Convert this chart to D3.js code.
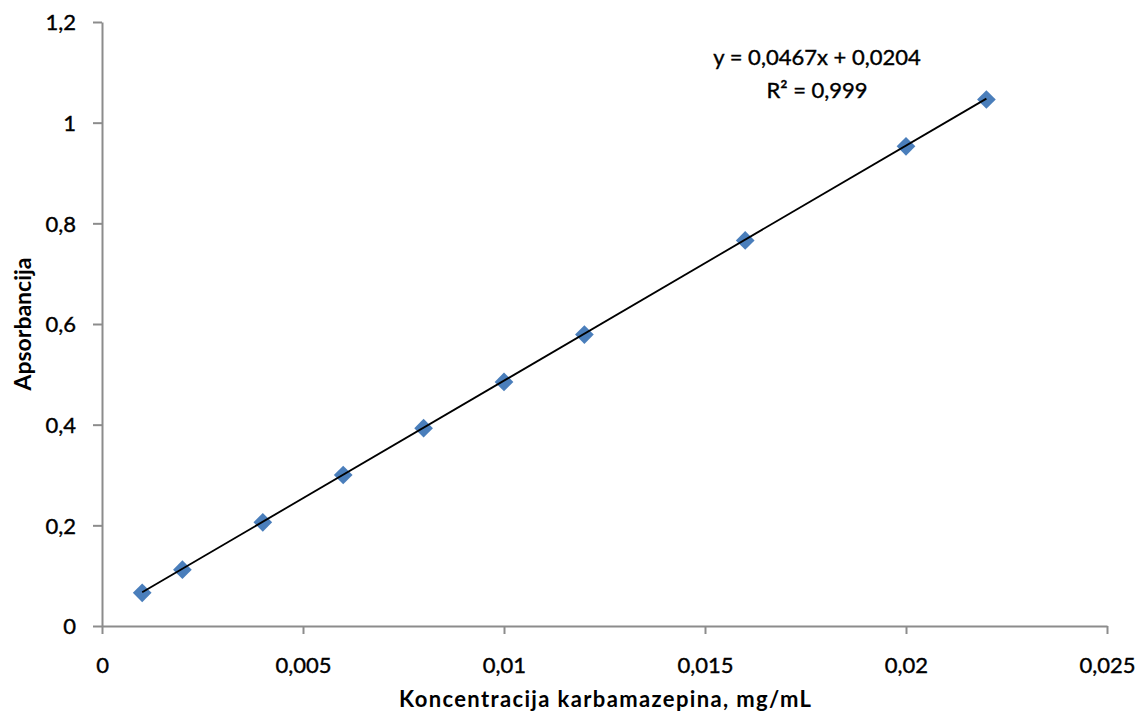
<!DOCTYPE html>
<html>
<head>
<meta charset="utf-8">
<script src="https://cdn.jsdelivr.net/npm/d3@7"></script>
<style>
  body { margin: 0; background: #fff; }
  text { font-family: Lato, "Open Sans", sans-serif; fill: #000; }
</style>
</head>
<body>
<svg id="chart" width="1141" height="715"></svg>
<script>
// measured points, concentration (mg/mL) vs absorbance
const concentration = [0.001, 0.002, 0.004, 0.006, 0.008, 0.01, 0.012, 0.016, 0.02, 0.022];
const absorbance = [0.066, 0.112, 0.206, 0.300, 0.393, 0.485, 0.579, 0.766, 0.953, 1.046];
const xTicks = [0, 0.005, 0.01, 0.015, 0.02, 0.025];
const yTicks = [0, 0.2, 0.4, 0.6, 0.8, 1, 1.2];
// trendline as printed on the chart (x scaled by 1000)
const slope = 46.7, intercept = 0.0204;
const equationLines = ["y = 0,0467x + 0,0204", "R² = 0,999"];

const svg = d3.select("#chart");
const margin = { left: 102, right: 34, top: 22, bottom: 89 };
const width = 1141, height = 715;

const x = d3.scaleLinear().domain([0, 0.025]).range([margin.left, width - margin.right]);
const y = d3.scaleLinear().domain([0, 1.2]).range([height - margin.bottom, margin.top]);

const fmt = d => String(d).replace(".", ",");

const xAxis = svg.append("g")
  .attr("transform", `translate(0,${y(0)})`)
  .call(d3.axisBottom(x).tickValues(xTicks).tickFormat(fmt).tickSize(8).tickSizeOuter(0).tickPadding(23));

const yAxis = svg.append("g")
  .attr("transform", `translate(${x(0)},0)`)
  .call(d3.axisLeft(y).tickValues(yTicks).tickFormat(fmt).tickSize(9).tickSizeOuter(0).tickPadding(17));

[xAxis, yAxis].forEach(g => {
  g.select(".domain").attr("stroke", "#8c8c8c").attr("stroke-width", 2);
  g.selectAll(".tick line").attr("stroke", "#8c8c8c").attr("stroke-width", 2);
  g.selectAll(".tick text")
    .style("font-family", "Lato, sans-serif")
    .style("font-size", "22px")
    .attr("fill", "#000")
    .attr("stroke", "#000")
    .attr("stroke-width", 0.4);
});
xAxis.selectAll(".tick text").attr("dy", "0.71em");
yAxis.selectAll(".tick text").attr("dy", "0.36em");

// diamonds: squares turned 45 degrees
const points = concentration.map((c, i) => ({ c: c, a: absorbance[i] }));
svg.append("g")
  .selectAll("path")
  .data(points)
  .join("path")
  .attr("d", d3.symbol().type(d3.symbolSquare).size(175))
  .attr("transform", d => `translate(${x(d.c)},${y(d.a)}) rotate(45)`)
  .attr("fill", "#4a7ebb");

// trendline across the data range
const xs = d3.extent(concentration);
svg.append("line")
  .attr("x1", x(xs[0])).attr("y1", y(slope * xs[0] + intercept))
  .attr("x2", x(xs[1])).attr("y2", y(slope * xs[1] + intercept))
  .attr("stroke", "#000").attr("stroke-width", 1.8);

svg.append("g")
  .selectAll("text")
  .data(equationLines)
  .join("text")
  .attr("x", 817)
  .attr("y", (d, i) => 65 + i * 33)
  .attr("text-anchor", "middle")
  .attr("stroke", "#000")
  .attr("stroke-width", 0.4)
  .style("font-size", "22px")
  .text(d => d);

svg.append("text")
  .attr("x", 605)
  .attr("y", 707)
  .attr("text-anchor", "middle")
  .attr("textLength", 412)
  .attr("lengthAdjust", "spacing")
  .style("font-size", "22px")
  .style("font-weight", "bold")
  .text("Koncentracija karbamazepina, mg/mL");

svg.append("text")
  .attr("transform", `translate(31,${(y(0) + y(1.2)) / 2}) rotate(-90)`)
  .attr("text-anchor", "middle")
  .style("font-size", "23px")
  .style("font-weight", "bold")
  .text("Apsorbancija");
</script>
</body>
</html>
